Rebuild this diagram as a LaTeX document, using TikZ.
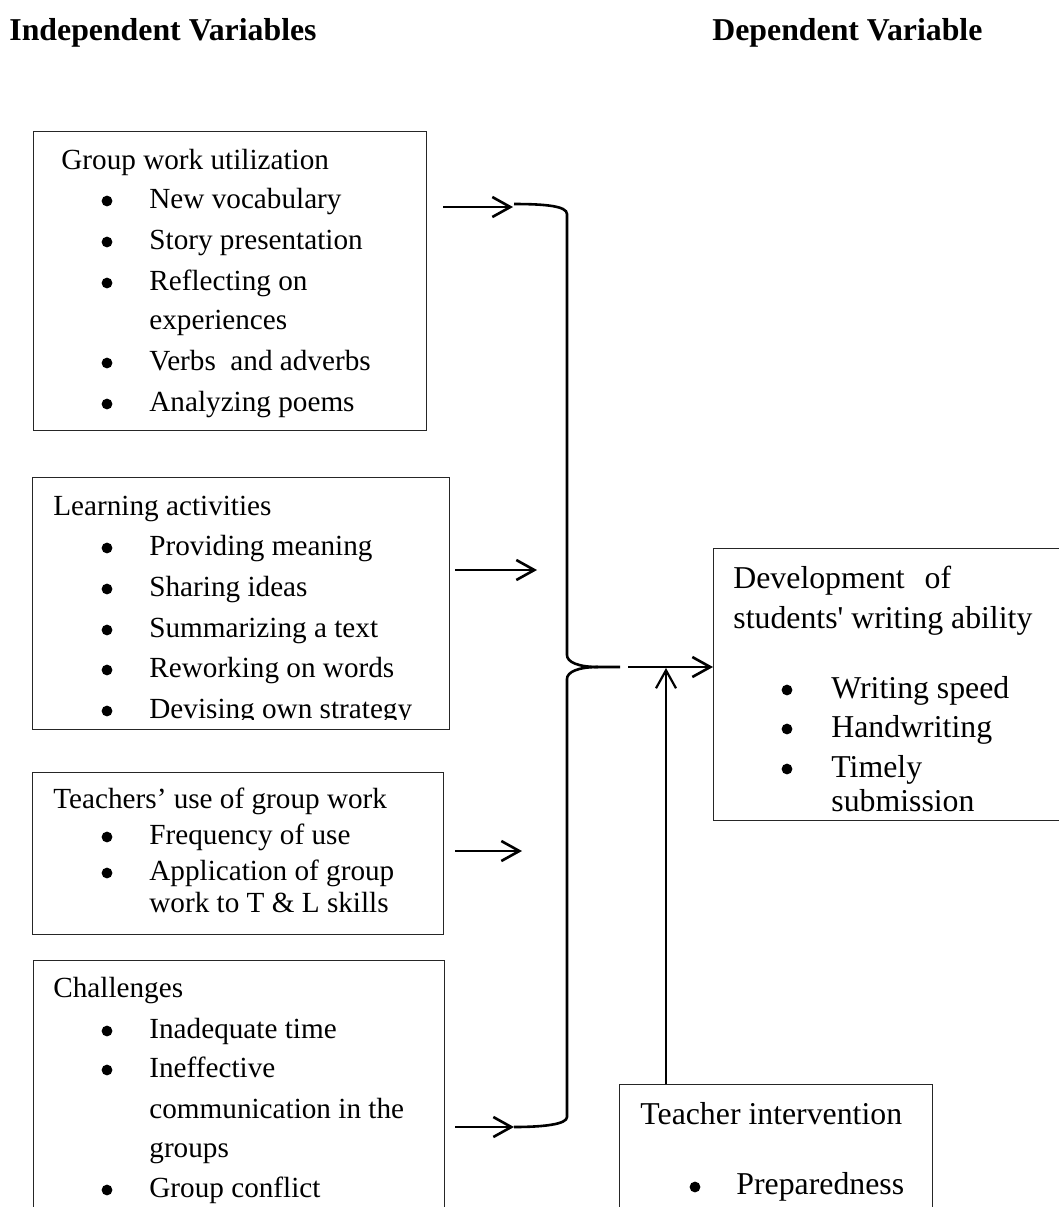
\documentclass[tikz,border=0pt]{standalone}
\usepackage{fontspec}
\setmainfont{Liberation Serif}
\newfontfamily\nomapfont{Liberation Serif}
\usetikzlibrary{arrows.meta}
\begin{document}
\begin{tikzpicture}[x=0.5pt,y=-0.5pt,
 box/.style={draw=black!85, line width=0.6pt, inner sep=0pt, anchor=north west},
 lt/.style={anchor=base west, inner sep=0pt, font=\fontsize{14.6pt}{17pt}\selectfont},
 rt/.style={anchor=base west, inner sep=0pt, font=\fontsize{15.9pt}{18pt}\selectfont},
 ttl/.style={anchor=base west, inner sep=0pt, font=\fontsize{15.9pt}{18pt}\selectfont\bfseries},
 bul/.style={circle, fill=black, inner sep=0pt, minimum size=5.4pt},
 conn/.style={line width=1.3pt},
 arr/.style={conn, -{Straight Barb[length=9pt,width=10pt]}},
]
\clip (0,0) rectangle (1059,1207);
% titles
\node[ttl] (t1) at (9,40) {Independent Variables};
\node[ttl] (t2) at (712,40) {Dependent Variable};
% boxes
\node[box, minimum width=196.5pt, minimum height=149.5pt] (b1) at (33,131) {};
\node[box, minimum width=208.5pt, minimum height=126pt] (b2) at (32,477) {};
\node[box, minimum width=205.5pt, minimum height=81pt] (b3) at (32,772) {};
\node[box, minimum width=205.5pt, minimum height=130pt] (b4) at (33,960) {};
\node[box, minimum width=176pt, minimum height=136pt] (b5) at (713,548) {};
\node[box, minimum width=156.5pt, minimum height=70pt] (b6) at (619,1084) {};
% box 1
\node[lt] (g0) at (61,169) {Group work utilization};
\foreach \y/\t in {208/New vocabulary,249/Story presentation,290/Reflecting on,370/Verbs\ \ and adverbs,411/Analyzing poems}{
  \node[bul] at (107,\y-7) {};
  \node[lt] at (149,\y) {\t};
}
\node[lt] (g3b) at (149,329) {experiences};
% box 2
\node[lt] (l0) at (53,515) {Learning activities};
\foreach \y/\t in {555/Providing meaning,596/Sharing ideas,637/Summarizing a text,677/Reworking on words}{
  \node[bul] at (107,\y-7) {};
  \node[lt] at (149,\y) {\t};
}
\node[bul] at (107,711) {};
\begin{scope}
\clip (140,680) rectangle (440,719);
\node[lt] (l5) at (149,718) {Devising own strategy};
\end{scope}
% box 3
\node[lt] (u0) at (53,808) {Teachers’ use of group work};
\node[bul] at (107,837) {};
\node[lt] (u1) at (149,844) {Frequency of use};
\node[bul] at (107,873) {};
\node[lt] (u2) at (149,880) {Application of group};
\node[lt] (u3) at (149,912) {work to T \& L skills};
% box 4
\node[lt] (c0) at (53,997) {Challenges};
\node[bul] at (107,1031) {};
\node[lt] (c1) at (149,1038) {Inadequate time};
\node[bul] at (107,1070) {};
\node[lt] (c2) at (149,1077) {Ineffective};
\node[lt] (c3) at (149,1118) {communication in the};
\node[lt] (c4) at (149,1157) {groups};
\node[bul] at (107,1190) {};
\node[lt] (c5) at (149,1197) {Group conflict};
% box 5
\node[rt] (d0) at (733,588) {Development\hspace{10pt}of};
\node[rt] (d1) at (733,628) {students{\nomapfont '} writing ability};
\node[bul] at (787,690) {};
\node[rt] (d2) at (831,698) {Writing speed};
\node[bul] at (787,729) {};
\node[rt] (d3) at (831,737) {Handwriting};
\node[bul] at (787,769) {};
\node[rt] (d4) at (831,777) {Timely};
\node[rt] (d5) at (831,811) {submission};
% box 6
\node[rt] (i0) at (640,1124) {Teacher intervention};
\node[bul] at (695,1187) {};
\node[rt] (i1) at (736,1194) {Preparedness};
% connector coordinates
\coordinate (a1s) at (443,207);
\coordinate (a1e) at (513,207);
\coordinate (a2s) at (455,570);
\coordinate (a2e) at (537,570);
\coordinate (a3s) at (455,851);
\coordinate (a3e) at (522,851);
\coordinate (a4s) at (455,1127);
\coordinate (a4e) at (514,1127);
\coordinate (brT) at (514,204);
\coordinate (brB) at (514,1127);
\coordinate (brM) at (598,667);
\coordinate (brTip) at (620,667);
\coordinate (ms) at (628,667);
\coordinate (me) at (713,667);
\coordinate (us) at (666,1084);
\coordinate (ue) at (666,668);
% arrows from boxes
\draw[arr] (a1s) -- (a1e);
\draw[arr] (a2s) -- (a2e);
\draw[arr] (a3s) -- (a3e);
\draw[arr] (a4s) -- (a4e);
% brace
\draw[conn] (brT) .. controls (545,204) and (567,206) .. (567,214) -- (567,655)
  .. controls (567,662) and (578,667) .. (brM) -- (brTip);
\draw[conn] (brM) .. controls (578,667) and (567,672) .. (567,679) -- (567,1117)
  .. controls (567,1124) and (545,1127) .. (brB);
% main arrows
\draw[arr] (ms) -- (me);
\draw[arr, line width=1.1pt] (us) -- (ue);
\end{tikzpicture}
\end{document}
